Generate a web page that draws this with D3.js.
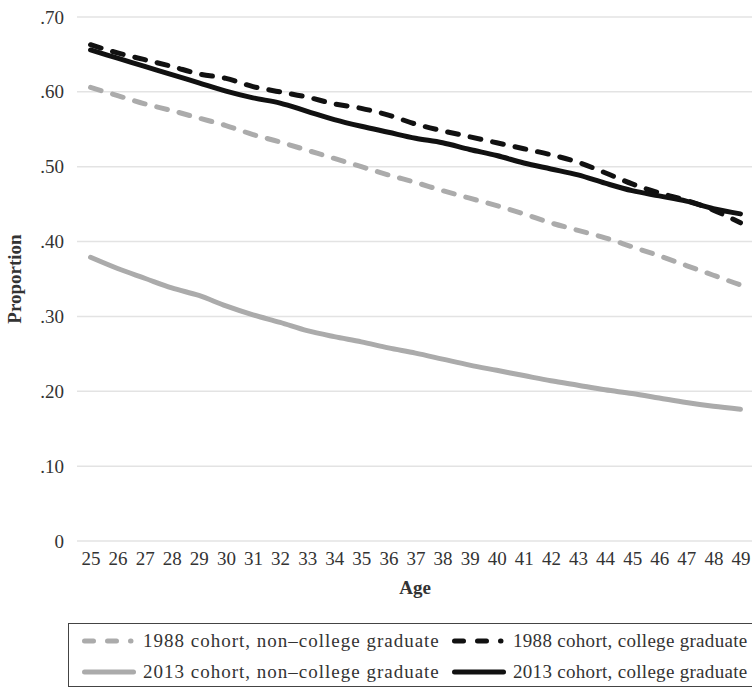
<!DOCTYPE html>
<html><head><meta charset="utf-8">
<script src="https://cdn.jsdelivr.net/npm/d3@7"></script>
<style>body{margin:0;background:#fff}svg{display:block}text{font-family:"Liberation Serif","DejaVu Serif",serif;fill:#333}</style>
</head><body>
<svg id="c" width="752" height="688"></svg>
<script>
const ages = d3.range(25, 50).map(String);
const yTicks = [0, 0.1, 0.2, 0.3, 0.4, 0.5, 0.6, 0.7];
const nonCollege1988 = [.606,.595,.584,.575,.565,.555,.543,.533,.522,.511,.500,.489,.479,.468,.458,.448,.437,.425,.415,.405,.393,.381,.368,.355,.342];
const nonCollege2013 = [.379,.364,.351,.338,.328,.314,.302,.292,.281,.273,.266,.258,.251,.243,.235,.228,.221,.214,.208,.202,.197,.191,.185,.180,.176];
const college1988 = [.663,.652,.643,.634,.624,.618,.607,.600,.593,.584,.578,.569,.557,.548,.540,.532,.524,.516,.506,.492,.477,.465,.455,.442,.425];
const college2013 = [.656,.645,.634,.623,.612,.601,.592,.585,.574,.563,.554,.546,.538,.532,.523,.515,.505,.497,.489,.478,.468,.461,.454,.444,.437];
const seriesNames = ["1988 cohort, non\u2013college graduate","1988 cohort, college graduate","2013 cohort, non\u2013college graduate","2013 cohort, college graduate"];

const series = [
  {name: seriesNames[0], values: nonCollege1988, color: "#ababab", dash: true},
  {name: seriesNames[1], values: college1988, color: "#111111", dash: true},
  {name: seriesNames[2], values: nonCollege2013, color: "#ababab", dash: false},
  {name: seriesNames[3], values: college2013, color: "#111111", dash: false}
];

const svg = d3.select("#c");
const pL = 77, pR = 754, pT = 17, pB = 541;
const x = d3.scalePoint().domain(ages).range([pL, pR]).padding(0.5);
const y = d3.scaleLinear().domain([0, 0.7]).range([pB, pT]);
const FS = 19;

// gridlines
svg.append("g").selectAll("line").data(yTicks).join("line")
  .attr("x1", pL).attr("x2", 752)
  .attr("y1", d => y(d)).attr("y2", d => y(d))
  .attr("stroke", "#e3e3e3").attr("stroke-width", 1.5);

// y axis labels
const yAxis = d3.axisLeft(y).tickValues(yTicks).tickSize(0).tickPadding(0)
  .tickFormat(d => d === 0 ? "0" : d3.format(".2f")(d).replace(/^0/, ""));
const gy = svg.append("g").attr("transform", `translate(64,0)`).call(yAxis);
gy.select(".domain").remove();
gy.selectAll("text").attr("font-size", FS).attr("fill", "#333").style("font-family", '"Liberation Serif",serif');

// x axis labels
const xAxis = d3.axisBottom(x).tickSize(0).tickPadding(0);
const gx = svg.append("g").attr("transform", `translate(0,551)`).call(xAxis);
gx.select(".domain").remove();
gx.selectAll("text").attr("font-size", FS).attr("fill", "#333").style("font-family", '"Liberation Serif",serif');

// axis titles
svg.append("text").attr("x", 415).attr("y", 594).attr("text-anchor", "middle")
  .attr("font-size", FS).attr("font-weight", "bold").attr("fill", "#222").text("Age");
svg.append("text").attr("transform", "translate(21,279) rotate(-90)").attr("text-anchor", "middle")
  .attr("font-size", FS).attr("font-weight", "bold").attr("fill", "#222").text("Proportion");

// lines
const line = d3.line().x((d, i) => x(ages[i])).y(d => y(d)).curve(d3.curveMonotoneX);
svg.append("g").selectAll("path").data(series).join("path")
  .attr("d", d => line(d.values))
  .attr("fill", "none")
  .attr("stroke", d => d.color)
  .attr("stroke-width", 5)
  .attr("stroke-linecap", "round")
  .attr("stroke-linejoin", "round")
  .attr("stroke-dasharray", d => d.dash ? "11,12" : null);

// legend
svg.append("rect").attr("x", 68.5).attr("y", 623.5).attr("width", 700).attr("height", 63)
  .attr("fill", "none").attr("stroke", "#444").attr("stroke-width", 1);
const legPos = [[82, 641, 1.0], [452, 641, 0.3], [82, 672, 1.0], [452, 672, 0.3]];
const lg = svg.append("g").selectAll("g").data(series).join("g")
  .attr("transform", (d, i) => `translate(${legPos[i][0]},${legPos[i][1]})`);
lg.append("line").attr("x1", 2.5).attr("x2", d => d.dash ? 49 : 51.5).attr("y1", 0).attr("y2", 0)
  .attr("stroke", d => d.color).attr("stroke-width", 5).attr("stroke-linecap", "round")
  .attr("stroke-dasharray", d => d.dash ? "9,14" : null);
lg.append("text").attr("x", 61).attr("y", 6).attr("font-size", FS)
  .attr("letter-spacing", (d, i) => legPos[i][2])
  .attr("fill", "#333").text(d => d.name);
</script>
</body></html>
